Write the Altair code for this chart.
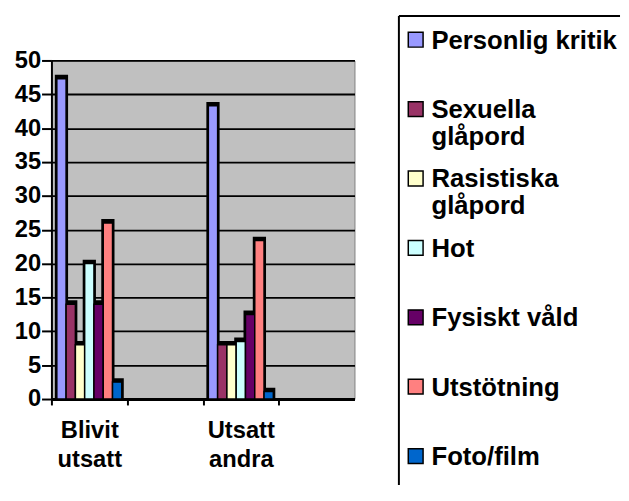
import altair as alt
import pandas as pd

# ---- data ----
categories = ["Blivit utsatt", "Utsatt andra"]
axis_slots = ["Blivit utsatt", "gap1", "Utsatt andra", "gap2"]
series = ["Personlig kritik", "Sexuella glåpord", "Rasistiska glåpord", "Hot",
          "Fysiskt våld", "Utstötning", "Foto/film"]
legend_labels = ["Personlig kritik", "Sexuella|glåpord", "Rasistiska|glåpord", "Hot",
                 "Fysiskt våld", "Utstötning", "Foto/film"]
blivit_utsatt = [47.3, 14, 8, 20, 14, 26, 2.5]
utsatt_andra = [43.3, 8, 8, 8.5, 12.5, 23.4, 1.1]
colors = ["#9999FF", "#993366", "#FFFFCC", "#CCFFFF", "#660066", "#FF8080", "#0066CC"]
y_ticks = [0, 5, 10, 15, 20, 25, 30, 35, 40, 45, 50]

FONT = "Liberation Sans"
W, H = 307, 343
HALF_BAND = W / len(axis_slots) / 2

rows = []
for cat, vals in zip(categories, [blivit_utsatt, utsatt_andra]):
    for s, v in zip(series, vals):
        rows.append({"category": cat, "series": s, "amount": v})
df = pd.DataFrame(rows)

leg = pd.DataFrame({"series": series, "label": legend_labels, "idx": list(range(len(series)))})

color_scale = alt.Scale(domain=series, range=colors)

x_enc = alt.X(
    "category:N",
    scale=alt.Scale(domain=axis_slots, paddingInner=0, paddingOuter=0),
    axis=alt.Axis(
        title=None, labelAngle=0,
        labelExpr="indexof(datum.value, 'gap') == 0 ? '' : split(datum.value, ' ')",
        labelFont=FONT, labelFontSize=24, labelFontWeight="bold", labelColor="black",
        labelLineHeight=29, labelPadding=14,
        tickOffset=-HALF_BAND, labelOffset=HALF_BAND,
        domainColor="black", domainWidth=3, tickColor="black", tickWidth=2, tickSize=6,
        grid=False,
    ),
)
xoff_enc = alt.XOffset("series:N", scale=alt.Scale(domain=series, paddingOuter=0.58, paddingInner=0))
y_enc = alt.Y(
    "amount:Q",
    scale=alt.Scale(domain=[0, 50], nice=False),
    axis=alt.Axis(
        title=None, values=y_ticks,
        labelFont=FONT, labelFontSize=24, labelFontWeight="bold", labelColor="black",
        labelPadding=1, tickSize=10, tickWidth=2, tickColor="black",
        domainColor="black", domainWidth=2,
        grid=True, gridColor="black", gridWidth=1.8,
    ),
)

base = alt.Chart(df)
shadow = base.mark_bar(color="black", stroke="black", strokeWidth=4, xOffset=3, yOffset=-2).encode(
    x=x_enc, xOffset=xoff_enc, y=y_enc)
front = base.mark_bar(stroke="black", strokeWidth=1.5).encode(
    x=x_enc, xOffset=xoff_enc, y=y_enc,
    color=alt.Color("series:N", scale=color_scale, legend=None),
)
main = alt.layer(shadow, front).properties(
    width=W, height=H,
    view=alt.ViewBackground(fill="#C0C0C0", stroke="#808080", strokeWidth=1),
)

# ---- hand-built legend panel ----
leg_y = alt.Y("idx:Q", scale=alt.Scale(domain=[0.2987, 5.178], reverse=True, nice=False, zero=False), axis=None)
frame = alt.Chart(alt.Data(values=[{"a": 1}]))
left_rule = frame.mark_rule(color="black", strokeWidth=2).encode(
    x=alt.value(0), y=alt.value(-45), y2=alt.value(430))
top_rule = frame.mark_rule(color="black", strokeWidth=2).encode(
    x=alt.value(0), x2=alt.value(224), y=alt.value(-45))
squares = alt.Chart(leg).mark_square(size=225, stroke="black", strokeWidth=1.5, opacity=1).encode(
    x=alt.value(17), y=leg_y,
    color=alt.Color("series:N", scale=color_scale, legend=None),
)
texts = alt.Chart(leg).mark_text(
    align="left", baseline="alphabetic", dy=9, font=FONT, fontSize=26, fontWeight="bold",
    lineBreak="|", lineHeight=27, color="black",
).encode(x=alt.value(33), y=leg_y, text="label:N")
legend = alt.layer(left_rule, top_rule, squares, texts).properties(
    width=222, height=H,
    view=alt.ViewBackground(fill="white", stroke="white", strokeWidth=0),
)

chart = alt.hconcat(main, legend, spacing=45, bounds="flush").properties(
    padding={"left": 5, "top": 4, "right": 0, "bottom": 0},
    background="white",
)

chart.save("out.html", embed_options={"renderer": "svg", "actions": False})
